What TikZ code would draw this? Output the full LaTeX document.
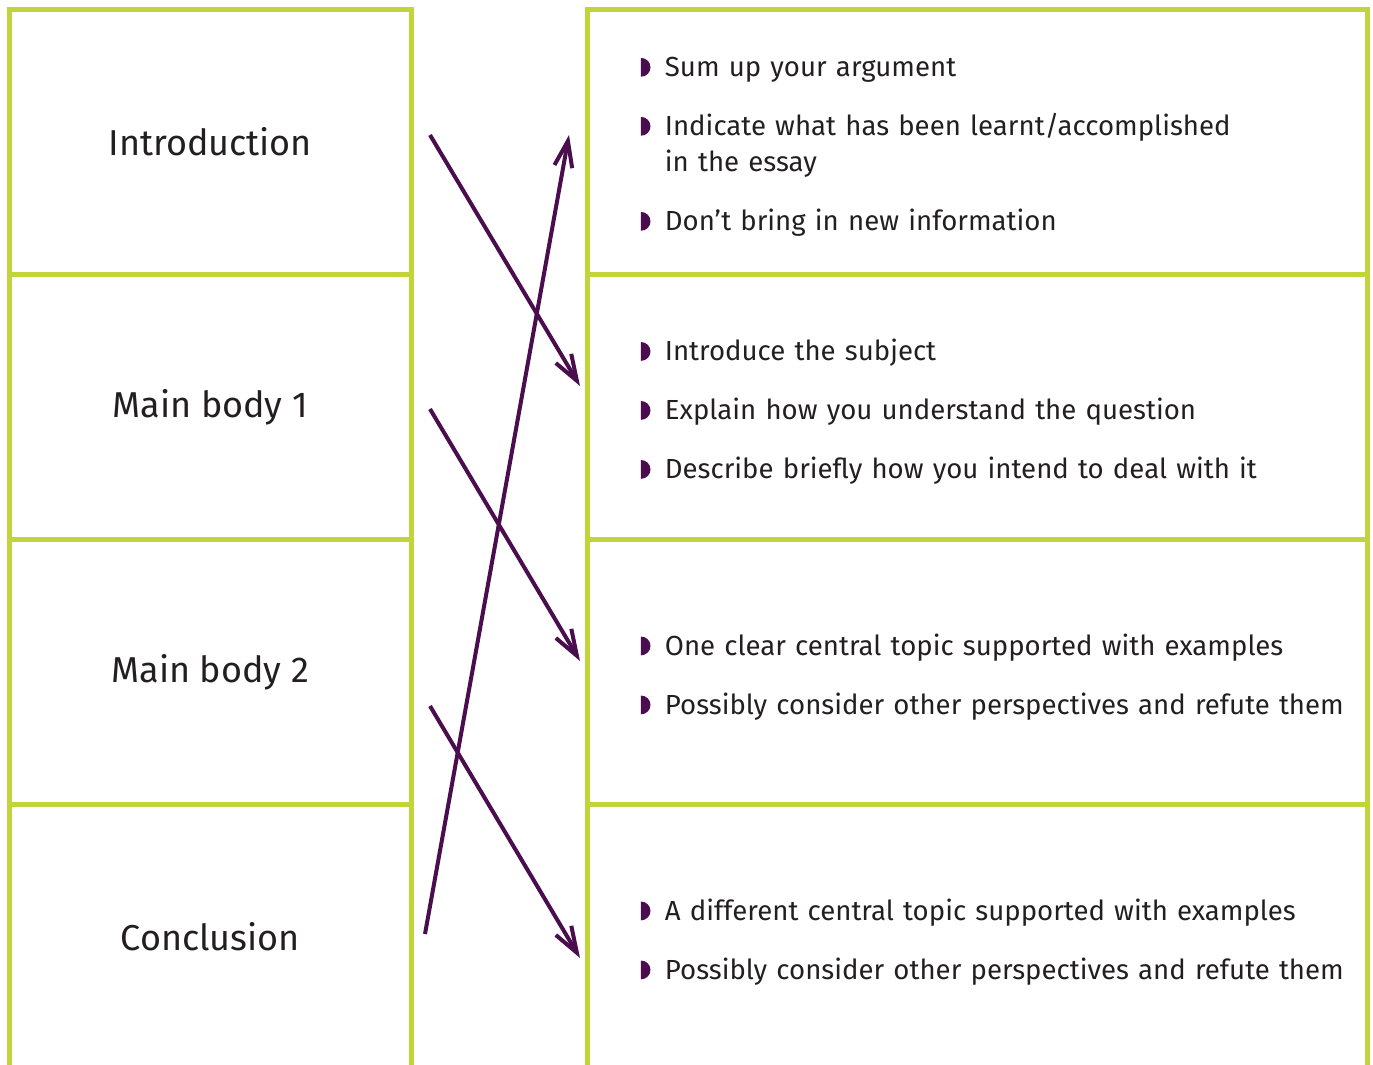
\documentclass[tikz,border=0pt]{standalone}
\usepackage{fontspec}
\setmainfont{Fira Sans}
\usetikzlibrary{arrows.meta, positioning}

\definecolor{boxgreen}{RGB}{194,212,60}
\definecolor{arrowpurple}{RGB}{74,13,77}
\definecolor{textgrey}{RGB}{35,31,32}

\newcommand{\halfdot}{\makebox[12pt][l]{\tikz[x=1pt, y=1pt, baseline=0pt]\fill[arrowpurple] (0,0) -- (0,9.4) arc[start angle=90, end angle=-90, x radius=4.8, y radius=4.7] -- cycle;}}

\tikzset{
    lbox/.style={draw=boxgreen, line width=2.5pt, minimum width=201.25pt, minimum height=132.5pt,
        font=\fontsize{18}{21}\selectfont, text=textgrey},
    rbox/.style={draw=boxgreen, line width=2.5pt, minimum width=390pt, minimum height=132.5pt},
    items/.style={inner sep=0pt, text width=360pt, align=left,
        font=\fontsize{13.8}{18}\selectfont, text=textgrey},
    link/.style={draw=arrowpurple, line width=2pt, ->}
}

\begin{document}
\begin{tikzpicture}[x=0.5pt, y=-0.5pt, >={Straight Barb[length=13pt, width=9pt]}]

    \useasboundingbox (0,0) rectangle (1373,1065);

    % draw left boxes
    \foreach \n/\y/\t in {intro/142/Introduction, mainA/407/Main body 1,
                          mainB/672/Main body 2, concl/937/Conclusion}
        \node [lbox] (\n) at (210.25,\y) {\t};

    % draw right boxes
    \foreach \n/\y in {rsum/142, rintro/407, rmainA/672, rmainB/937}
        \node [rbox] (\n) at (977.5,\y) {};

    % bullet lists
    \node [items, right=27.75pt of rsum.west, yshift=-2.5pt] (lsum) {%
        \halfdot Sum up your argument\\[11.5pt]
        \halfdot Indicate what has been learnt/accomplished\\
        \hspace*{12pt}in the essay\\[11.5pt]
        \halfdot Don’t bring in new information};
    \node [items, right=27.75pt of rintro.west, yshift=-2.5pt] (lintro) {%
        \halfdot Introduce the subject\\[11.5pt]
        \halfdot Explain how you understand the question\\[11.5pt]
        \halfdot Describe briefly how you intend to deal with it};
    \node [items, right=27.75pt of rmainA.west, yshift=-2.5pt] (lmainA) {%
        \halfdot One clear central topic supported with examples\\[11.5pt]
        \halfdot Possibly consider other perspectives and refute them};
    \node [items, right=27.75pt of rmainB.west, yshift=-2.5pt] (lmainB) {%
        \halfdot A different central topic supported with examples\\[11.5pt]
        \halfdot Possibly consider other perspectives and refute them};

    % arrow ends
    \foreach \n/\x/\y in {s1/430/135, e1/580/386, s2/430/409, e2/580/661,
                          s3/430/706, e3/580/958, s4/425/934, e4/569/135}
        \coordinate (\n) at (\x,\y);

    % draw arrows
    \foreach \i in {1,...,4}
        \draw [link] (s\i) -- (e\i);

\end{tikzpicture}
\end{document}
